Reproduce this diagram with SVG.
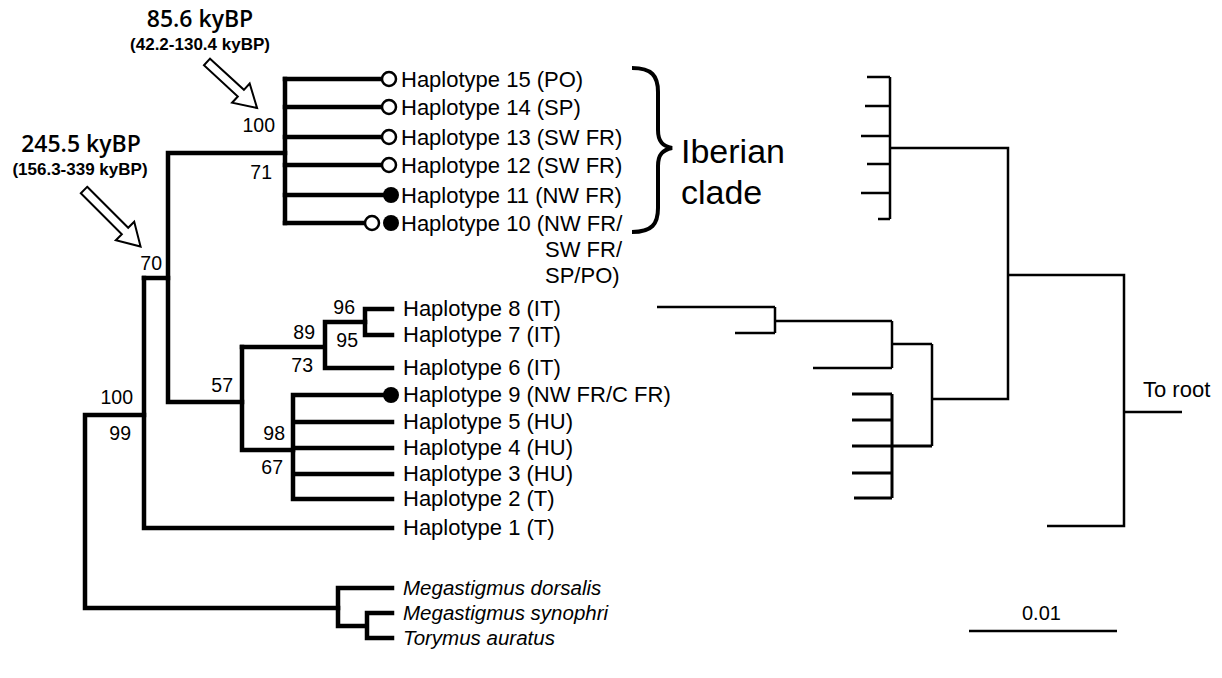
<svg xmlns="http://www.w3.org/2000/svg" width="1222" height="678" viewBox="0 0 1222 678">
<style>
.thick{fill:none;stroke:#000;stroke-width:4.5;stroke-linecap:square;stroke-linejoin:miter}
.thin{fill:none;stroke:#000;stroke-width:2.5;stroke-linecap:butt;stroke-linejoin:miter}
.lab{font-family:"Liberation Sans",Arial,sans-serif;font-size:22px;fill:#000}
.it{font-style:italic;font-size:20.5px}
.big{font-size:34px}
.mid{font-size:20px}
.bs{font-family:"Liberation Sans",Arial,sans-serif;font-size:19.5px;fill:#000;text-anchor:end}
.ann{fill:#000;text-anchor:middle}
.annbig{font-family:"Open Sans","Liberation Sans",sans-serif;font-size:23px;font-weight:600}
.annsm{font-family:"Liberation Sans",Arial,sans-serif;font-size:17px;font-weight:bold}
.open{fill:#fff;stroke:#000;stroke-width:2.5}
.fill{fill:#000}
.arrow{fill:#fff;stroke:#000;stroke-width:2}
</style>
<rect width="1222" height="678" fill="#fff"/>

<g id="connectors">
  <!-- left tree -->
  <path class="thick" d="M144,415 H85 V608 H338"/>
  <path class="thick" d="M144,278 V528 H392"/>
  <path class="thick" d="M144,278 H168 V402 H242"/>
  <path class="thick" d="M168,278 V153 H285"/>
  <path class="thick" d="M285,79 V223"/>
  <path class="thick" d="M285,79 H381 M285,107 H381 M285,137 H381 M285,165 H381 M285,195 H384 M285,223 H364"/>
  <path class="thick" d="M242,347 V450 H293"/>
  <path class="thick" d="M242,347 H325 V322 H365 M325,322 V368 H392"/>
  <path class="thick" d="M365,309 V335 M365,309 H392 M365,335 H392"/>
  <path class="thick" d="M293,395 V499 M293,395 H384 M293,422 H392 M293,448 H392 M293,474 H392 M293,499 H392"/>
  <path class="thick" d="M338,588 V626 H367 M338,588 H392 M367,613 V638 M367,613 H392 M367,638 H392"/>
  <!-- right tree -->
  <path class="thin" d="M890,77 V219 M867,77 H890 M865,106 H890 M861,136 H890 M867,164 H890 M861,193 H890 M878,219 H890"/>
  <path class="thin" d="M890,148 H1008 V399 H932"/>
  <path class="thin" d="M932,344 V446 M892,344 H932"/>
  <path class="thin" d="M892,321 V368 M775,321 H892 M775,307 V333 M657,307 H775 M735,333 H775 M813,368 H892"/>
  <path class="thin" d="M892,394 V498" style="stroke-width:3"/>
  <path class="thin" d="M852,394 H892 M852,420 H892 M852,446 H932 M852,473 H892 M854,498 H892" style="stroke-width:3"/>
  <path class="thin" d="M1008,275 H1124 V526 H1047 M1124,412 H1182"/>
  <path class="thin" d="M969,631 H1117"/>
  <!-- brace -->
  <path d="M632,68 C652,68 658,76 658,92 L658,130 C658,142 663,146 672,148 C663,150 658,154 658,166 L658,208 C658,224 652,232 632,232" fill="none" stroke="#000" stroke-width="4"/>
</g>

<g id="annotations">
  <text class="ann annbig" x="200" y="27">85.6 kyBP</text>
  <text class="ann annsm" x="200" y="50">(42.2-130.4 kyBP)</text>
  <polygon class="arrow" transform="translate(207,62) rotate(42.6)" points="0,-4.5 46,-4.5 46,-13 68,0 46,13 46,4.5 0,4.5"/>
  <text class="ann annbig" x="81" y="152">245.5 kyBP</text>
  <text class="ann annsm" x="80" y="175">(156.3-339 kyBP)</text>
  <polygon class="arrow" transform="translate(84,190) rotate(45)" points="0,-4.5 58,-4.5 58,-13 80,0 58,13 58,4.5 0,4.5"/>
</g>

<g id="support">
  <text class="bs" x="275" y="132">100</text>
  <text class="bs" x="272" y="179">71</text>
  <text class="bs" x="162" y="270">70</text>
  <text class="bs" x="133" y="404">100</text>
  <text class="bs" x="131" y="440">99</text>
  <text class="bs" x="233" y="392">57</text>
  <text class="bs" x="285" y="440">98</text>
  <text class="bs" x="283" y="474">67</text>
  <text class="bs" x="315" y="339">89</text>
  <text class="bs" x="313" y="372">73</text>
  <text class="bs" x="355" y="314">96</text>
  <text class="bs" x="358" y="347">95</text>
</g>

<g id="hap15"><circle class="open" cx="389" cy="79" r="7"/><text class="lab" x="401" y="87">Haplotype 15 (PO)</text></g>
<g id="hap14"><circle class="open" cx="389" cy="107" r="7"/><text class="lab" x="401" y="115">Haplotype 14 (SP)</text></g>
<g id="hap13"><circle class="open" cx="389" cy="137" r="7"/><text class="lab" x="401" y="145">Haplotype 13 (SW FR)</text></g>
<g id="hap12"><circle class="open" cx="389" cy="165" r="7"/><text class="lab" x="401" y="173">Haplotype 12 (SW FR)</text></g>
<g id="hap11"><circle class="fill" cx="391" cy="195" r="8"/><text class="lab" x="401" y="203">Haplotype 11 (NW FR)</text></g>
<g id="hap10"><circle class="open" cx="372" cy="223" r="7"/><circle class="fill" cx="391" cy="223" r="8"/><text class="lab" x="401" y="231">Haplotype 10 (NW FR/</text><text class="lab" x="545" y="257">SW FR/</text><text class="lab" x="545" y="283">SP/PO)</text></g>
<g id="hap8"><text class="lab" x="403" y="316">Haplotype 8 (IT)</text></g>
<g id="hap7"><text class="lab" x="403" y="342">Haplotype 7 (IT)</text></g>
<g id="hap6"><text class="lab" x="403" y="375">Haplotype 6 (IT)</text></g>
<g id="hap9"><circle class="fill" cx="391" cy="395" r="8"/><text class="lab" x="403" y="402">Haplotype 9 (NW FR/C FR)</text></g>
<g id="hap5"><text class="lab" x="403" y="429">Haplotype 5 (HU)</text></g>
<g id="hap4"><text class="lab" x="403" y="455">Haplotype 4 (HU)</text></g>
<g id="hap3"><text class="lab" x="403" y="481">Haplotype 3 (HU)</text></g>
<g id="hap2"><text class="lab" x="403" y="506">Haplotype 2 (T)</text></g>
<g id="hap1"><text class="lab" x="403" y="535">Haplotype 1 (T)</text></g>
<g id="mdorsalis"><text class="lab it" x="403" y="595">Megastigmus dorsalis</text></g>
<g id="msynophri"><text class="lab it" x="403" y="620">Megastigmus synophri</text></g>
<g id="tauratus"><text class="lab it" x="403" y="645">Torymus auratus</text></g>

<g id="iberian"><text class="lab big" x="681" y="163">Iberian</text><text class="lab big" x="681" y="204">clade</text></g>
<g id="toroot"><text class="lab" x="1143" y="397">To root</text></g>
<g id="scale"><text class="lab mid" x="1022" y="620">0.01</text></g>
</svg>
